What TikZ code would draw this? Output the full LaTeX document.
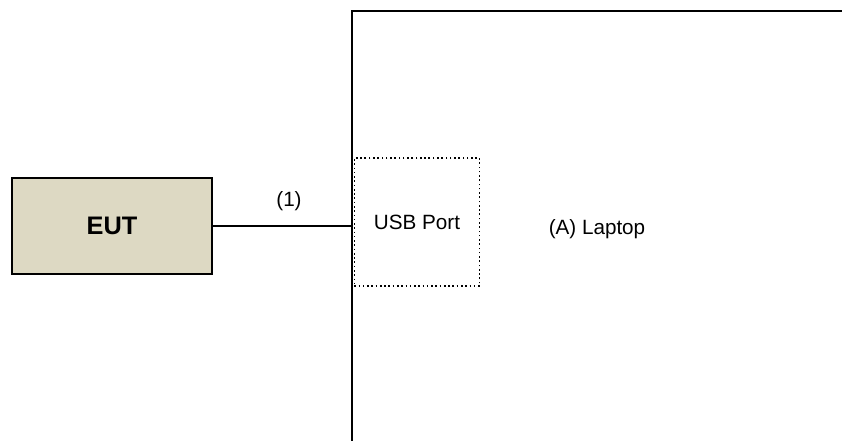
\documentclass[tikz,border=0pt]{standalone}
\usepackage{fontspec}
\setmainfont{Liberation Sans}
\definecolor{euttan}{HTML}{DDD9C3}

\begin{document}
\begin{tikzpicture}[x=0.75pt, y=-0.75pt, line width=1.5pt,
  eutbox/.style = {draw, fill=euttan, minimum width=150pt, minimum height=72pt, font=\fontsize{19}{22}\selectfont\bfseries},
  portbox/.style = {draw, dotted, line width=1.2pt, minimum width=94pt, minimum height=96pt, font=\fontsize{15.5}{18}\selectfont}]
\useasboundingbox (0,0) rectangle (842,440);
\clip (0,0) rectangle (842,440);
% laptop outline
\draw (352,450) -- (352,11) -- (850,11);
\coordinate (laptop) at (352,226);
\node [eutbox] (eut) at (112,226) {EUT};
\node [portbox] (usb) at (417,222) {USB Port};
\draw (eut.east) -- (laptop);
\node [above, font=\fontsize{15.5}{18}\selectfont] (cable) at (289,216) {(1)};
\node [font=\fontsize{15.5}{18}\selectfont] (laptopname) at (597,229) {(A) Laptop};
\end{tikzpicture}
\end{document}
